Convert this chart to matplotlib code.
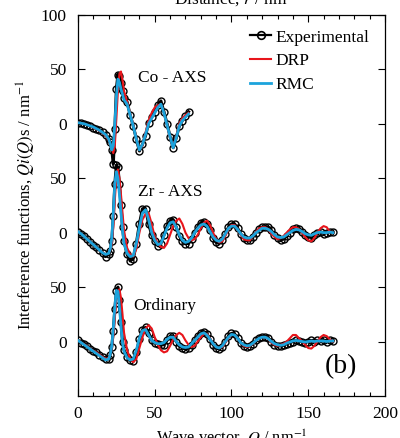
import matplotlib
matplotlib.use('Agg')
import matplotlib.pyplot as plt
from matplotlib.lines import Line2D
from matplotlib.ticker import MultipleLocator

plt.rcParams['font.family'] = ['Liberation Serif', 'DejaVu Serif']
plt.rcParams['mathtext.fontset'] = 'stix'

# wave vector grid, Co-AXS (nm^-1)
q_co = [0, 2, 4, 6, 8, 10, 12, 14, 16, 18, 20,
        21, 22, 23, 24, 25, 26, 27, 28, 29, 30,
        32, 34, 36, 38, 40, 42, 44, 46, 48, 50,
        52, 54, 56, 58, 60, 62, 64, 66, 68, 70,
        72]
co_exp = [1, 0.5, 0, -1, -2, -3.5, -4.5, -6, -8, -10, -14,
          -17, -24, -37, -5, 32, 45, 44, 37, 30, 24,
          20, 8, -2, -14, -25, -19, -11, 1, 6, 11,
          17, 21, 11, 0, -12, -22, -13, -2, 3, 7,
          11]
co_drp = [1, 0.5, 0, -1, -2, -3.5, -5, -6.5, -8.5, -11, -15,
          -18, -23, -27, -20, 5, 30, 46, 48, 40, 30,
          20, 9, -1, -13, -24, -20, -8, 3, 10, 15,
          17, 18, 10, -1, -13, -21, -12, 0, 5, 8,
          10]
co_rmc = [1, 0.5, 0, -1, -2, -3, -4.5, -6, -8, -10, -14,
          -18, -24, -20, 0, 25, 41, 38, 32, 27, 22,
          18, 8, -2, -14, -24, -19, -10, 0, 5, 10,
          15, 18, 10, -1, -12, -22, -13, -2, 3, 6,
          9]

# wave vector grid, Zr-AXS and ordinary
q = [0, 2, 4, 6, 8, 10, 12, 14, 16, 18, 20,
     21, 22, 23, 24, 25, 26, 27, 28, 29, 30,
     32, 34, 36, 38, 40, 42, 44, 46, 48, 50,
     52, 54, 56, 58, 60, 62, 64, 66, 68, 70,
     72, 74, 76, 78, 80, 82, 84, 86, 88, 90,
     92, 94, 96, 98, 100, 102, 104, 106, 108, 110,
     112, 114, 116, 118, 120, 122, 124, 126, 128, 130,
     132, 134, 136, 138, 140, 142, 144, 146, 148, 150,
     152, 154, 156, 158, 160, 162, 164, 166]

zr_exp = [1, -1, -3.5, -6, -8.5, -11, -13.5, -16, -19, -22, -20,
          -17, -8, 15, 45, 62, 60, 45, 25, 5, -8,
          -20, -26, -24, -10, 8, 22, 22, 8, -2, -8,
          -12, -10, -2, 6, 11, 12, 5, -3, -8, -10,
          -10, -6, 0, 5, 9, 10, 8, 2, -5, -9,
          -10, -7, -1, 5, 8, 8, 4, -1, -5, -7,
          -7, -4, 0, 3, 5, 5.5, 5, 2, -2, -5,
          -6.5, -6, -3, 0, 3, 4, 3.5, 1, -2, -4,
          -4.5, -2, 0, 1, -1, 0, 1, 0.5]
zr_drp = [1, -1, -3.5, -6, -8.5, -11, -13.5, -16, -18, -20, -19,
          -16, -10, 5, 30, 52, 58, 50, 35, 18, 2,
          -14, -20, -22, -15, 0, 12, 17, 18, 8, -4,
          -10, -13, -14, -10, -2, 6, 11, 13, 8, 0,
          -5, -7, -6, -2, 4, 9, 11, 7, 0, -6,
          -9, -8, -3, 3, 7, 7, 3, -2, -6, -7,
          -7, -3, 1, 4, 5, 5, 3, -1, -4, -6,
          -5, -3, 0, 3, 5, 5, 3, 0, -4, -7,
          -8, -5, 0, 4, 6, 5, 1, 0]
zr_rmc = [1, -1, -3.5, -6, -8.5, -11, -13.5, -16, -18.5, -20, -19,
          -15, -5, 18, 45, 56, 50, 35, 18, 2, -10,
          -19, -22, -21, -10, 5, 18, 21, 12, 0, -7,
          -11, -10, -3, 4, 9, 10, 5, -2, -7, -9,
          -8, -5, 0, 4, 7, 8, 6, 1, -4, -7,
          -8, -6, -1, 4, 6, 6, 3, -1, -4, -5,
          -5, -3, 0, 2, 4, 4, 3, 1, -2, -4,
          -4.5, -4, -2, 0, 2, 3, 2.5, 1, -1, -2,
          -2.5, -1, 0, 0.5, 0, 0, 0.5, 0]

ord_exp = [1, -1, -2.5, -4.5, -6.5, -8.5, -10, -12, -14, -16.5, -16,
           -12, -5, 10, 30, 46, 50, 38, 18, 0, -8,
           -14, -17, -18, -10, 2, 11, 13, 8, 1, -1,
           -2, -3, -3, 1, 5, 5, 0, -4, -6, -7,
           -6, -3, 1, 5, 8, 9, 7, 2, -3, -6,
           -7, -5, 0, 5, 7.5, 7, 3, -1, -4, -5,
           -4, -2, 1, 3.5, 4.5, 4.5, 3, 0, -3, -4,
           -4, -3.5, -2, -1, 0, 1, 0.5, 0, -1, 0,
           1, 0, 1, 0.5, 1, 0, 1, 0.5]
ord_drp = [1, -1, -2.5, -4.5, -6.5, -8.5, -10, -12, -14, -16, -15,
           -12, -6, 5, 22, 38, 46, 48, 40, 25, 8,
           -8, -16, -19, -16, -6, 4, 12, 15, 12, 4,
           -3, -8, -10, -9, -4, 2, 6, 8, 6, 1,
           -3, -5, -4, 0, 4, 7, 7, 3, -2, -5,
           -6, -5, -1, 3, 6, 6, 3, -1, -4, -5,
           -4, -2, 1, 3, 4, 4, 2, -1, -3, -4,
           -3, -2, 0, 3, 6, 6, 3, 0, -3, -6,
           -6.5, -4, 0, 4, 6, 5, 2, 0]
ord_rmc = [1, -1, -3, -5, -7, -9, -11, -13, -15, -17, -16,
           -12, -4, 12, 32, 47, 46, 32, 14, -1, -9,
           -15, -17, -16, -8, 3, 10, 11, 6, 1, -1,
           -2, -2, -1, 2, 4, 4, 0, -3, -5, -5.5,
           -5, -2, 1, 4, 7, 8, 6, 2, -2, -5,
           -6, -4, 0, 4, 6.5, 6, 3, -1, -3, -4,
           -3.5, -1.5, 1, 3, 4, 4, 2.5, 0, -2, -3,
           -3.5, -3, -1.5, -0.5, 0.5, 1, 0.5, 0, -0.5, 0,
           0.5, 0, 0.5, 0.5, 0.5, 0, 0.5, 0.5]

panels = [
    ('Co - AXS', q_co, co_exp, co_drp, co_rmc, 200),
    ('Zr - AXS', q, zr_exp, zr_drp, zr_rmc, 100),
    ('Ordinary', q, ord_exp, ord_drp, ord_rmc, 0),
]
label_pos = {'Co - AXS': (39, 242), 'Zr - AXS': (39, 137), 'Ordinary': (36, 33)}

ytick_pos = [0, 50, 100, 150, 200, 250, 300]
ytick_lab = ['0', '50', '0', '50', '0', '50', '100']

red = '#e8151b'
blue = '#1ca3dc'
fs = 12.5

fig = plt.figure(figsize=(4, 4.38), dpi=100)
ax = fig.add_axes([0.195, 0.096, 0.7675, 0.87])

for name, qq, e, d, r, off in panels:
    ax.plot(qq, [v + off for v in e], color='black', lw=2.2, marker='o',
            ms=5, mfc='none', mec='black', mew=1.0, zorder=2)
    ax.plot(qq, [v + off for v in d], color=red, lw=1.5, zorder=3)
    ax.plot(qq, [v + off for v in r], color=blue, lw=2.0, zorder=4)
    tx, ty = label_pos[name]
    ax.text(tx, ty, name, fontsize=fs, va='center', ha='left')

ax.set_xlim(0, 200)
ax.set_ylim(-50, 300)
ax.set_xticks([0, 50, 100, 150, 200])
ax.xaxis.set_minor_locator(MultipleLocator(10))
ax.set_yticks(ytick_pos)
ax.set_yticklabels(ytick_lab)
ax.tick_params(which='both', direction='in', top=True, right=True, labelsize=fs)
ax.tick_params(which='major', length=5, width=0.8)
ax.tick_params(which='minor', length=3, width=0.8)
ax.tick_params(axis='y', pad=8)
ax.tick_params(axis='x', pad=7)
for s in ax.spines.values():
    s.set_linewidth(0.9)

ax.set_xlabel('Wave vector, $Q$ / nm$^{-1}$', fontsize=11.8)
ax.xaxis.set_label_coords(0.5, -0.083)
ax.xaxis.label.set_va('top')
ax.set_ylabel('Interference functions, $Qi(Q)$s / nm$^{-1}$', fontsize=12)
ax.yaxis.set_label_coords(-0.13, 0.5)

handles = [
    Line2D([], [], color='black', lw=1.6, marker='o', ms=5.5, mfc='none', mec='black', mew=1.2),
    Line2D([], [], color=red, lw=1.5),
    Line2D([], [], color=blue, lw=2.0),
]
ax.legend(handles, ['Experimental', 'DRP', 'RMC'], loc='upper left',
          bbox_to_anchor=(0.51, 1.003), frameon=False, fontsize=fs,
          handlelength=1.2, handletextpad=0.25, labelspacing=0.45)

ax.text(0.857, 0.076, '(b)', transform=ax.transAxes, fontsize=20,
        ha='center', va='center')

fig.text(0.578, 0.992, 'Distance, $r$ / nm', fontsize=fs, ha='center', va='baseline')

fig.savefig('out.png', dpi=100)
